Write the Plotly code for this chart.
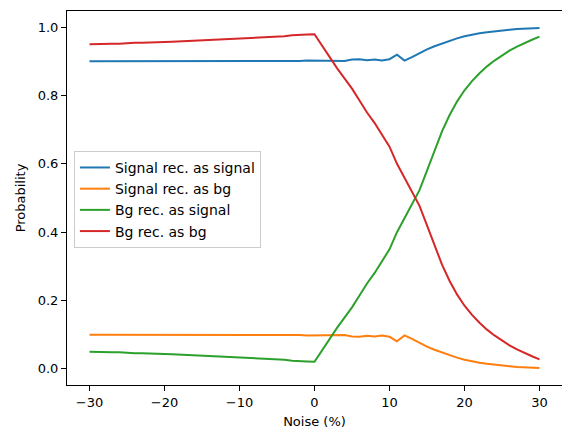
import plotly.graph_objects as go

noise = list(range(-30, 31))

signal_as_signal = [
    0.900, 0.900, 0.899, 0.900, 0.900, 0.900, 0.900, 0.900, 0.899, 0.900,
    0.900, 0.900, 0.900, 0.900, 0.900, 0.900, 0.900, 0.899, 0.900, 0.900,
    0.900, 0.900, 0.900, 0.900, 0.900, 0.901, 0.900, 0.901, 0.901, 0.902,
    0.902,
    0.902, 0.901, 0.902, 0.901, 0.905, 0.906, 0.903, 0.905, 0.902, 0.906,
    0.919, 0.902, 0.912, 0.924, 0.935, 0.944, 0.952, 0.960, 0.967, 0.973,
    0.978, 0.982, 0.985, 0.988, 0.990, 0.992, 0.994, 0.995, 0.996, 0.997,
]

signal_as_bg = [
    0.100, 0.100, 0.101, 0.100, 0.100, 0.100, 0.100, 0.100, 0.101, 0.100,
    0.100, 0.100, 0.100, 0.100, 0.100, 0.100, 0.100, 0.101, 0.100, 0.100,
    0.100, 0.100, 0.100, 0.100, 0.100, 0.099, 0.100, 0.099, 0.099, 0.098,
    0.098,
    0.098, 0.099, 0.098, 0.099, 0.095, 0.094, 0.097, 0.095, 0.098, 0.094,
    0.081, 0.098, 0.088, 0.076, 0.065, 0.056, 0.048, 0.040, 0.033, 0.027,
    0.022, 0.018, 0.015, 0.012, 0.010, 0.008, 0.006, 0.005, 0.004, 0.003,
]

bg_as_signal = [
    0.050, 0.049, 0.049, 0.049, 0.049, 0.047, 0.046, 0.046, 0.046, 0.045,
    0.044, 0.043, 0.042, 0.041, 0.040, 0.039, 0.038, 0.037, 0.037, 0.036,
    0.035, 0.034, 0.033, 0.032, 0.031, 0.029, 0.027, 0.024, 0.022, 0.022,
    0.021,
    0.055, 0.090, 0.120, 0.150, 0.180, 0.215, 0.250, 0.280, 0.315, 0.350,
    0.400, 0.440, 0.480, 0.523, 0.580, 0.640, 0.695, 0.742, 0.782, 0.815,
    0.842, 0.865, 0.885, 0.902, 0.917, 0.931, 0.943, 0.954, 0.963, 0.972,
]

bg_as_bg = [
    0.950, 0.951, 0.951, 0.951, 0.951, 0.953, 0.954, 0.954, 0.954, 0.955,
    0.956, 0.957, 0.958, 0.959, 0.960, 0.961, 0.962, 0.963, 0.963, 0.964,
    0.965, 0.966, 0.967, 0.968, 0.969, 0.971, 0.973, 0.976, 0.978, 0.978,
    0.979,
    0.945, 0.910, 0.880, 0.850, 0.820, 0.785, 0.750, 0.720, 0.685, 0.650,
    0.600, 0.560, 0.520, 0.477, 0.420, 0.360, 0.305, 0.258, 0.218, 0.185,
    0.158, 0.135, 0.115, 0.098, 0.083, 0.069, 0.057, 0.046, 0.037, 0.028,
]

series = [
    ("Signal rec. as signal", signal_as_signal, "#1f77b4"),
    ("Signal rec. as bg", signal_as_bg, "#ff7f0e"),
    ("Bg rec. as signal", bg_as_signal, "#2ca02c"),
    ("Bg rec. as bg", bg_as_bg, "#d62728"),
]

font = "DejaVu Sans"

fig = go.Figure()
for name, vals, color in series:
    fig.add_trace(go.Scatter(x=noise, y=vals, mode="lines", name=name,
                             line=dict(color=color, width=2)))

axis_common = dict(
    showline=True, mirror=True, linecolor="black", linewidth=1,
    ticks="outside", ticklen=5, tickcolor="black", tickwidth=1,
    showgrid=False, zeroline=False,
    tickfont=dict(family=font, size=13, color="black"),
)

# page body has an 8px margin, so the figure is 8px smaller than the window
fig.update_layout(
    width=562, height=423,
    margin=dict(l=59, r=8, t=3, b=46),
    plot_bgcolor="white", paper_bgcolor="white",
    font=dict(family=font, size=13, color="black"),
    xaxis=dict(range=[-33, 33], tickvals=[-30, -20, -10, 0, 10, 20, 30],
               title=dict(text="Noise (%)", font=dict(family=font, size=13), standoff=8),
               **axis_common),
    yaxis=dict(range=[-0.047, 1.047], tickvals=[0, 0.2, 0.4, 0.6, 0.8, 1.0],
               tickformat=".1f",
               title=dict(text="Probability", font=dict(family=font, size=13), standoff=9),
               **axis_common),
    legend=dict(x=0.014, y=0.626, xanchor="left", yanchor="top",
                bgcolor="rgba(255,255,255,0.8)", bordercolor="#cccccc", borderwidth=1,
                font=dict(family=font, size=14, color="black"),
                itemwidth=30),
    showlegend=True,
)

fig.write_html("out.html")
